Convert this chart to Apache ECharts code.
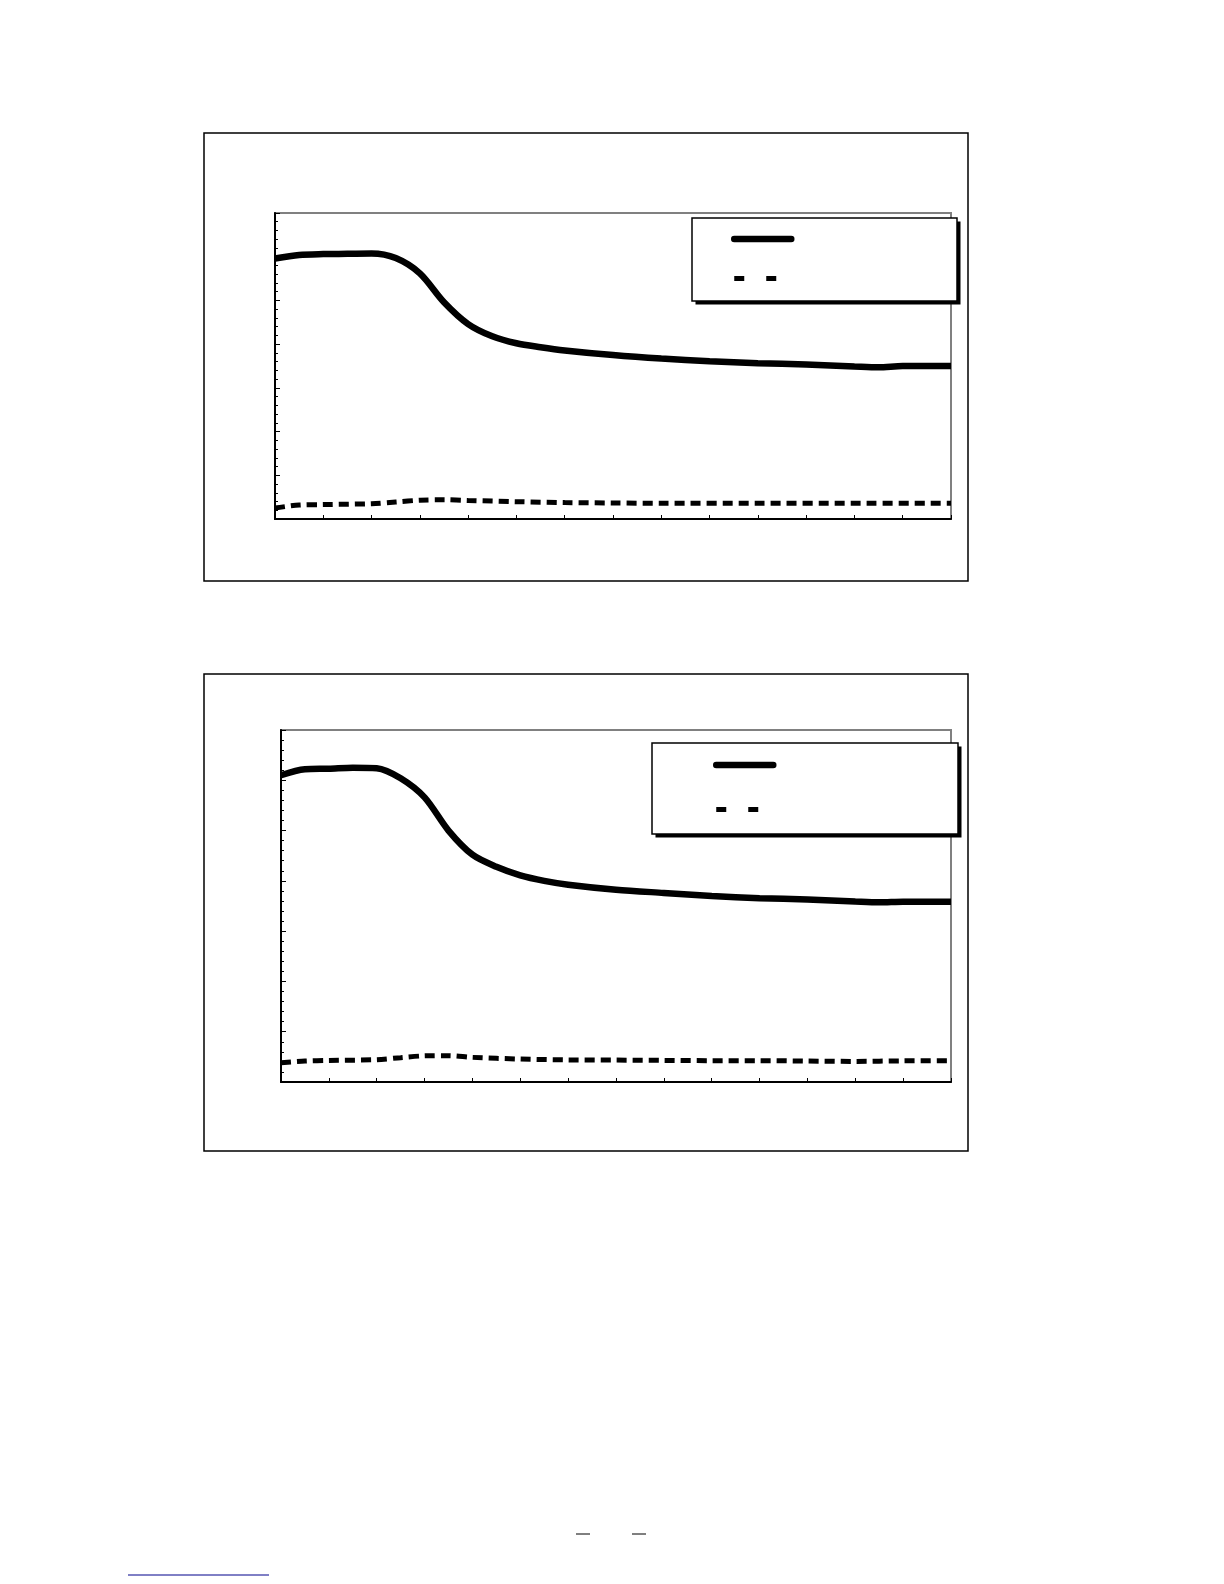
<!DOCTYPE html>
<html>
<head>
<meta charset="utf-8">
<title>chart</title>
<script src="https://cdn.jsdelivr.net/npm/echarts@6/dist/echarts.min.js"></script>
<style>
    body { margin: 0; background: #fff; }
    #main { width: 1224px; height: 1584px; }
</style>
</head>
<body>
<div id="main"></div>
<script>
// 上图 数据
const x_top = [0, 0.5, 1, 1.5, 2, 2.5, 3, 3.5, 4, 4.5, 5, 5.5, 6, 7, 8, 9, 10, 11, 12, 12.5, 13, 14]
const solid_top = [29.8, 30.2, 30.3, 30.33, 30.37, 29.85, 28.1, 24.8, 22.3, 20.9, 20.1, 19.65, 19.28, 18.75, 18.35, 18.05, 17.82, 17.68, 17.45, 17.35, 17.5, 17.5]
const x_top_dash = [0, 0.5, 1, 2, 2.5, 3, 3.5, 4, 5, 6, 7, 8, 10, 12, 14]
const dash_top = [1.25, 1.6, 1.65, 1.75, 1.95, 2.15, 2.2, 2.12, 1.98, 1.88, 1.83, 1.8, 1.8, 1.8, 1.8]

// 下图 数据
const x_bottom = [0, 0.5, 1, 1.5, 2, 2.5, 3, 3.5, 4, 4.5, 5, 5.5, 6, 7, 8, 9, 10, 11, 12, 12.5, 13, 14]
const solid_bottom = [30.5, 31.1, 31.15, 31.25, 31.2, 30.2, 28.3, 25.0, 22.6, 21.4, 20.55, 20.0, 19.62, 19.12, 18.8, 18.5, 18.28, 18.15, 17.95, 17.87, 17.93, 17.93]
const x_bottom_dash = [0, 0.5, 1, 2, 2.5, 3, 3.5, 4, 5, 6, 7, 8, 9, 10, 11, 12, 13, 14]
const dash_bottom = [1.92, 2.08, 2.14, 2.22, 2.42, 2.6, 2.62, 2.45, 2.28, 2.2, 2.18, 2.15, 2.12, 2.12, 2.08, 2.05, 2.1, 2.12]

// 坐标轴范围（无刻度文字）
const x_max = 14
const y_max = 35

function pairs(xs, ys) {
    return xs.map((x, i) => [x, ys[i]])
}

function xAxisOf(idx) {
    return {
        type: 'value', gridIndex: idx, min: 0, max: x_max, interval: 1,
        axisLine: { lineStyle: { color: '#000', width: 2 } },
        axisTick: { inside: true, length: 4, lineStyle: { color: '#000', width: 1 } },
        axisLabel: { show: false },
        splitLine: { show: false }
    }
}

function yAxisOf(idx) {
    return {
        type: 'value', gridIndex: idx, min: 0, max: y_max, interval: 5,
        axisLine: { show: true, lineStyle: { color: '#000', width: 2 } },
        axisTick: { show: true, inside: true, length: 5, lineStyle: { color: '#000', width: 1 } },
        minorTick: { show: true, splitNumber: 5, length: 3, lineStyle: { color: '#000', width: 1 } },
        axisLabel: { show: false },
        splitLine: { show: false }
    }
}

// 图例只画线段，框和阴影用 graphic 画
function legendOf(names, left, top, gap) {
    return {
        orient: 'vertical',
        left: left, top: top,
        padding: 0,
        itemGap: gap,
        itemWidth: 57, itemHeight: 14,
        selectedMode: false,
        formatter: () => '',
        itemStyle: { color: 'transparent', borderColor: 'transparent', borderWidth: 0, opacity: 0 },
        data: [
            { name: names[0], lineStyle: { width: 6.5, type: 'solid', cap: 'round', color: '#000' } },
            { name: names[1], lineStyle: { width: 5, type: [10, 22], cap: 'butt', color: '#000' } }
        ]
    }
}

function legendBox(x, y, w, h) {
    return [
        { type: 'rect', z: 3, shape: { x: x + 3.5, y: y + 3.5, width: w, height: h }, style: { fill: '#000' } },
        { type: 'rect', z: 3, shape: { x: x, y: y, width: w, height: h }, style: { fill: '#fff', stroke: '#000', lineWidth: 1.5 } }
    ]
}

function solidSeries(name, idx, data) {
    return {
        name: name, type: 'line', xAxisIndex: idx, yAxisIndex: idx,
        data: data, symbol: 'none', smooth: 0.3,
        itemStyle: { color: '#000' },
        lineStyle: { color: '#000', width: 6.5, cap: 'butt' }
    }
}

function dashSeries(name, idx, data) {
    return {
        name: name, type: 'line', xAxisIndex: idx, yAxisIndex: idx,
        data: data, symbol: 'none', smooth: 0.3,
        itemStyle: { color: '#000' },
        lineStyle: { color: '#000', width: 5, type: [10, 6], cap: 'butt' }
    }
}

const chart = echarts.init(document.getElementById('main'))

const option = {
    backgroundColor: '#fff',
    animation: false,
    grid: [
        { left: 275, top: 213, width: 676, height: 306, show: true, borderColor: '#808080', borderWidth: 2, backgroundColor: 'transparent' },
        { left: 281, top: 730, width: 670, height: 352, show: true, borderColor: '#808080', borderWidth: 2, backgroundColor: 'transparent' }
    ],
    xAxis: [xAxisOf(0), xAxisOf(1)],
    yAxis: [yAxisOf(0), yAxisOf(1)],
    legend: [
        legendOf(['上实线', '上虚线'], 731, 232, 27),
        legendOf(['下实线', '下虚线'], 713, 758, 32)
    ],
    series: [
        solidSeries('上实线', 0, pairs(x_top, solid_top)),
        dashSeries('上虚线', 0, pairs(x_top_dash, dash_top)),
        solidSeries('下实线', 1, pairs(x_bottom, solid_bottom)),
        dashSeries('下虚线', 1, pairs(x_bottom_dash, dash_bottom))
    ],
    // 外框、图例框和页面底部的小线段
    graphic: [
        { type: 'rect', z: -1, shape: { x: 204, y: 133, width: 764, height: 448 }, style: { fill: 'none', stroke: '#000', lineWidth: 1.5 } },
        { type: 'rect', z: -1, shape: { x: 204, y: 674, width: 764, height: 477 }, style: { fill: 'none', stroke: '#000', lineWidth: 1.5 } },
        ...legendBox(692, 218, 265, 83),
        ...legendBox(652, 743, 306, 91),
        { type: 'line', shape: { x1: 576, y1: 1534, x2: 590, y2: 1534 }, style: { stroke: '#000', lineWidth: 1 } },
        { type: 'line', shape: { x1: 632, y1: 1534, x2: 646, y2: 1534 }, style: { stroke: '#000', lineWidth: 1 } },
        { type: 'line', shape: { x1: 128, y1: 1575, x2: 269, y2: 1575 }, style: { stroke: '#00008b', lineWidth: 1 } }
    ]
}

chart.setOption(option)
</script>
</body>
</html>
